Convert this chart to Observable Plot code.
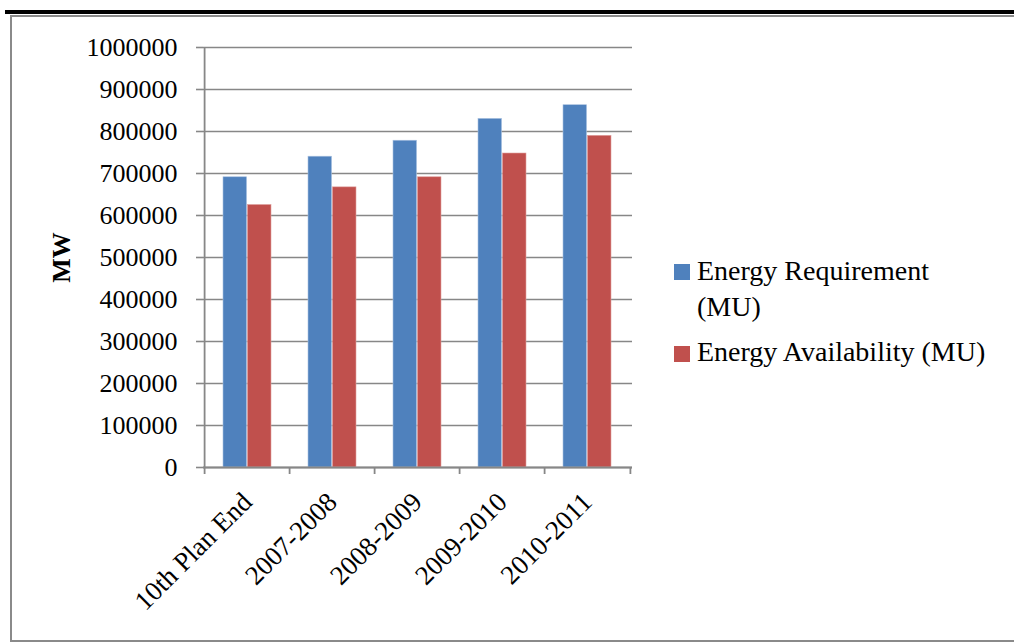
<!DOCTYPE html>
<html>
<head>
<meta charset="utf-8">
<script src="https://cdn.jsdelivr.net/npm/d3@7"></script>
<script src="https://cdn.jsdelivr.net/npm/@observablehq/plot@0.6"></script>
<style>
  html, body { margin: 0; padding: 0; background: #fff; }
  #wrap { position: relative; width: 1014px; height: 642px; overflow: hidden; font-family: "Liberation Serif", serif; }
  #topbar { position: absolute; left: 5px; top: 10px; width: 1009px; height: 4px; background: #000; }
  #box { position: absolute; left: 10px; top: 15px; width: 1010px; height: 623px; border: 2px solid #8a8a8a; border-right: none; box-sizing: content-box; }
  #chart { position: absolute; left: 0; top: 0; }
  .leg { position: absolute; font-size: 28px; color: #000; line-height: 36px; white-space: nowrap; }
  .sw { position: absolute; width: 16px; height: 16px; }
</style>
</head>
<body>
<div id="wrap">
  <div id="topbar"></div>
  <div id="box"></div>
  <div id="chart"></div>
</div>
<script>
const categories = ["10th Plan End", "2007-2008", "2008-2009", "2009-2010", "2010-2011"];
const energyRequirement = [691000, 740000, 778000, 830000, 862600];
const energyAvailability = [625000, 667000, 691000, 747600, 789700];
const seriesNames = ["Energy Requirement (MU)", "Energy Availability (MU)"];
const seriesLines = [["Energy Requirement", "(MU)"], ["Energy Availability (MU)"]];
const seriesColors = ["#4F81BD", "#C0504D"];
const yTicks = [0, 100000, 200000, 300000, 400000, 500000, 600000, 700000, 800000, 900000, 1000000];
const yTitle = "MW";

const table = categories.map((c, i) => ({category: c, req: energyRequirement[i], avail: energyAvailability[i]}));

const W = 1014, H = 642;
const mL = 203, mR = 382, mT = 47, mB = 175;
const step = (W - mL - mR) / categories.length;
const bandW = step * (1 - 0.43);
const grid = "#878787";

const chart = Plot.plot({
  width: W,
  height: H,
  marginLeft: mL,
  marginRight: mR,
  marginTop: mT,
  marginBottom: mB,
  style: {fontFamily: "'Liberation Serif', serif", fontSize: "26px", color: "#000", background: "transparent", overflow: "visible"},
  x: {domain: categories, type: "band", paddingInner: 0.43, paddingOuter: 0.215, axis: null},
  y: {domain: [0, 1000000], axis: null},
  marks: [
    Plot.gridY(yTicks, {stroke: grid, strokeOpacity: 1, strokeWidth: 1.6}),
    Plot.barY(table, {x: "category", y: "req", fill: seriesColors[0], insetRight: bandW / 2, stroke: "#a9c1e0", strokeWidth: 0.6}),
    Plot.barY(table, {x: "category", y: "avail", fill: seriesColors[1], insetLeft: bandW / 2, stroke: "#e0a09e", strokeWidth: 0.6}),
    Plot.ruleY([0], {stroke: grid, strokeWidth: 1.8}),
    Plot.ruleX([categories[0]], {x: d => d, dx: -step / 2, stroke: grid, strokeWidth: 1.8}),
    Plot.axisY(yTicks, {anchor: "left", tickSize: 7, tickPadding: 19, tickFormat: d => String(d), stroke: grid, strokeWidth: 1.6, fill: "#000", fontSize: 26, label: null}),
    Plot.axisX(categories, {anchor: "bottom", tickSize: 7, tickFormat: () => "", dx: -step / 2, stroke: grid, strokeWidth: 1.8, label: null}),
    Plot.axisX([categories[categories.length - 1]], {anchor: "bottom", tickSize: 7, tickFormat: () => "", dx: step / 2, stroke: grid, strokeWidth: 1.8, label: null}),
    Plot.axisX(categories, {anchor: "bottom", tickSize: 0, tickPadding: 30, tickRotate: -45, textAnchor: "end", lineAnchor: "middle", fill: "#000", fontSize: 27, label: null}),
    Plot.text([yTitle], {frameAnchor: "left", dx: 61 - mL, rotate: -90, text: d => d, fontWeight: "bold", fontSize: 26, fill: "#000", textAnchor: "middle", lineAnchor: "middle"})
  ]
});
document.getElementById("chart").appendChild(chart);

// legend
const wrap = document.getElementById("wrap");
const legendTops = [264, 345.7];
seriesNames.forEach((name, i) => {
  const sw = document.createElement("div");
  sw.className = "sw";
  sw.style.left = "674px";
  sw.style.top = legendTops[i] + "px";
  sw.style.background = seriesColors[i];
  wrap.appendChild(sw);
  const t = document.createElement("div");
  t.className = "leg";
  t.style.left = "697px";
  t.style.top = (legendTops[i] + 16 - 27.4) + "px";
  t.innerHTML = seriesLines[i].join("<br>");
  t.title = name;
  wrap.appendChild(t);
});
</script>
</body>
</html>
